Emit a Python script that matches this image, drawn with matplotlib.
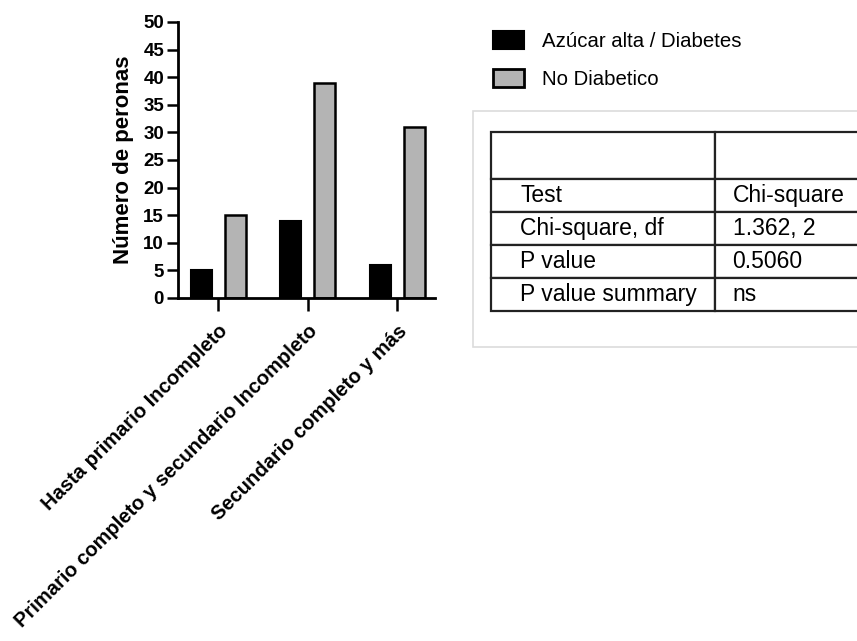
import matplotlib
matplotlib.use("Agg")
import matplotlib.pyplot as plt
import numpy as np
from matplotlib.patches import Patch, Rectangle

plt.rcParams['font.family'] = ['Liberation Sans', 'DejaVu Sans']

# nivel educativo vs diabetes
categorias = ['Hasta primario Incompleto',
              'Primario completo y secundario Incompleto',
              'Secundario completo y más']
diabetes = [5, 14, 6]
no_diabetico = [15, 39, 31]
series = ['Azúcar alta / Diabetes', 'No Diabetico']

# resultado del test chi-cuadrado
test_filas = ['Test', 'Chi-square, df', 'P value', 'P value summary']
test_valores = ['Chi-square', '1.362, 2', '0.5060', 'ns']

W, H = 857, 641
fig = plt.figure(figsize=(W / 100, H / 100), dpi=100)

def px_axes(x0, y0, x1, y1):
    # rect en pixeles (origen arriba-izquierda)
    return [x0 / W, 1 - y1 / H, (x1 - x0) / W, (y1 - y0) / H]

ax = fig.add_axes(px_axes(178, 22, 435, 298))
x = np.arange(len(categorias))
w = 0.235
ax.bar(x - 0.19, diabetes, w, color='black', edgecolor='black', linewidth=1.5)
ax.bar(x + 0.19, no_diabetico, w, color='#b4b4b4', edgecolor='black', linewidth=1.8)
ax.set_xlim(-0.45, 2.42)
ax.set_ylim(0, 50)
ax.set_yticks(np.arange(0, 51, 5))
ax.set_xticks(x)
ax.set_xticklabels(categorias, rotation=45, ha='right', va='top',
                   rotation_mode='anchor', fontsize=14.5, fontweight='bold')
for lab in ax.get_yticklabels():
    lab.set_fontweight('bold')
ax.tick_params(axis='y', labelsize=13.5, length=8, width=1.8, pad=2)
ax.tick_params(axis='x', length=9, width=1.8, pad=8)
for s in ['top', 'right']:
    ax.spines[s].set_visible(False)
for s in ['left', 'bottom']:
    ax.spines[s].set_linewidth(2)
ax.set_ylabel('Número de peronas', fontsize=16, fontweight='bold', labelpad=7)

# leyenda
handles = [Patch(facecolor='black', edgecolor='black', linewidth=1.5),
           Patch(facecolor='#b4b4b4', edgecolor='black', linewidth=2)]
fig.legend(handles, series, loc='upper left',
           bbox_to_anchor=(493 / W, 1 - 31 / H), frameon=False,
           fontsize=14.7, handlelength=1.5, handleheight=0.95,
           handletextpad=0.9, labelspacing=0.9, borderpad=0, borderaxespad=0)

# recuadro claro detras de la tabla
fig.patches.append(Rectangle((473 / W, 1 - 347 / H), 420 / W, 236 / H,
                             transform=fig.transFigure, facecolor='white',
                             edgecolor='#dcdcdc', linewidth=1.2, zorder=-1))

tax = fig.add_axes(px_axes(491, 131.7, 891, 310.7))
tax.axis('off')
celdas = [['', '']] + [[a, b] for a, b in zip(test_filas, test_valores)]
tabla = tax.table(cellText=celdas, colWidths=[0.56, 0.44], cellLoc='left',
                  bbox=[0, 0, 1, 1])
tabla.auto_set_font_size(False)
tabla.set_fontsize(16.5)
for (r, c), cell in tabla.get_celld().items():
    cell.set_height(0.263 if r == 0 else 0.184)
    cell.set_linewidth(1.6)
    cell.set_edgecolor('#222222')
    if c == 0:
        cell.PAD = 0.13

fig.savefig('out.png', dpi=100)
